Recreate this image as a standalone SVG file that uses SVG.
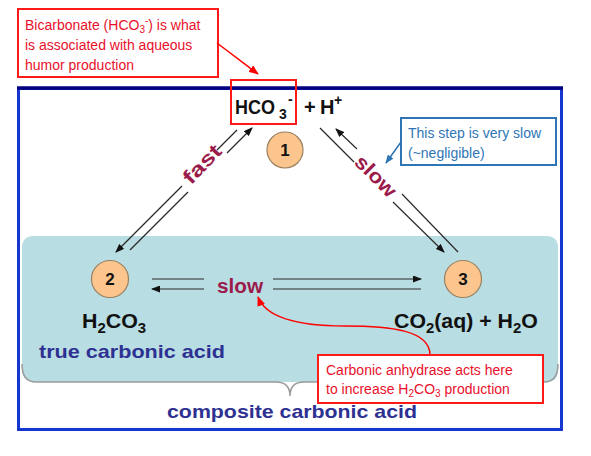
<svg xmlns="http://www.w3.org/2000/svg" width="591" height="456" viewBox="0 0 591 456">
<style>
.b{font-family:"Liberation Sans",Arial,sans-serif;font-weight:bold}
.chem{font-size:20px;fill:#111}
.lbl{font-size:19px;fill:#2e3192}
.rate{font-size:20px;fill:#9b1b4a}
.num{font-size:17px;fill:#111;text-anchor:middle}
.call{font-family:"Liberation Sans",Arial,sans-serif;font-size:14px}
.ln{stroke:#2a2a2a;stroke-width:1.2;fill:none}
.circ{fill:#fbc58d;stroke:#9a8060;stroke-width:1.2}
</style>
<defs>
<marker id="ah" markerWidth="9" markerHeight="7" refX="8" refY="3.5" orient="auto" markerUnits="userSpaceOnUse"><path d="M0,0 L9,3.5 L0,7 z" fill="#111"/></marker>
<marker id="ahr" markerWidth="10" markerHeight="8" refX="9" refY="4" orient="auto" markerUnits="userSpaceOnUse"><path d="M0,0 L10,4 L0,8 z" fill="#ff0000"/></marker>
<marker id="ahb" markerWidth="9" markerHeight="7" refX="8" refY="3.5" orient="auto" markerUnits="userSpaceOnUse"><path d="M0,0 L9,3.5 L0,7 z" fill="#2e75b6"/></marker>
</defs>
<rect width="591" height="456" fill="#fff"/>
<!-- frame -->
<rect x="18.5" y="88.5" width="543" height="341" fill="#fff" stroke="#1536d0" stroke-width="3"/>
<line x1="17" y1="88" x2="563" y2="88" stroke="#000080" stroke-width="3.5"/>
<!-- teal region with brace -->
<g id="region">
<path d="M22,248 Q22,236 34,236 L546,236 Q558,236 558,248 L558,370 Q558,382 546,382 L36,382 Q22,382 22,370 Z" fill="#b8dde2"/>
<path d="M22,364 Q22,382 36,382 L276,382 Q290,382 290,396 Q290,382 304,382 L544,382 Q558,382 558,364" fill="none" stroke="#9a9a9a" stroke-width="1.5"/>
<text class="b lbl" x="39" y="358" textLength="186" lengthAdjust="spacingAndGlyphs">true carbonic acid</text>
<text class="b lbl" x="167" y="418" textLength="250" lengthAdjust="spacingAndGlyphs">composite carbonic acid</text>
</g>
<!-- connectors -->
<g id="connectors">
<line class="ln" x1="237" y1="130" x2="217" y2="150"/>
<line class="ln" x1="182" y1="186" x2="116" y2="252" marker-end="url(#ah)"/>
<line class="ln" x1="130" y1="250" x2="188" y2="192"/>
<line class="ln" x1="227" y1="153" x2="252" y2="128" marker-end="url(#ah)"/>
<text class="b rate" transform="translate(202,164) rotate(-46)" text-anchor="middle" dy="0.35em" textLength="46" lengthAdjust="spacingAndGlyphs">fast</text>
<line class="ln" x1="320" y1="128" x2="354" y2="162"/>
<line class="ln" x1="393" y1="202" x2="444" y2="252" marker-end="url(#ah)"/>
<line class="ln" x1="458" y1="252" x2="402" y2="194"/>
<line class="ln" x1="357" y1="149" x2="336" y2="129" marker-end="url(#ah)"/>
<text class="b rate" transform="translate(376,176) rotate(45)" text-anchor="middle" dy="0.35em" textLength="50" lengthAdjust="spacingAndGlyphs">slow</text>
<line class="ln" x1="152" y1="279" x2="204" y2="279"/>
<line class="ln" x1="204" y1="289" x2="152" y2="289" marker-end="url(#ah)"/>
<line class="ln" x1="273" y1="279" x2="421" y2="279" marker-end="url(#ah)"/>
<line class="ln" x1="273" y1="289" x2="421" y2="289"/>
<text class="b rate" x="217" y="293" textLength="46" lengthAdjust="spacingAndGlyphs">slow</text>
</g>
<!-- nodes -->
<g id="node1">
<text class="b chem" y="114"><tspan x="235" textLength="40" lengthAdjust="spacingAndGlyphs">HCO</tspan><tspan x="279" y="119" font-size="14">3</tspan><tspan x="288" y="104" font-size="14">-</tspan><tspan x="304" y="114">+</tspan><tspan x="320" y="114">H</tspan><tspan x="334" y="105" font-size="14">+</tspan></text>
<circle class="circ" cx="285" cy="150" r="18"/>
<text class="b num" x="285" y="156">1</text>
</g>
<g id="node2">
<circle class="circ" cx="110" cy="279" r="18.5"/>
<text class="b num" x="110" y="285">2</text>
<text class="b chem" transform="translate(82,328) scale(1.07,1)">H<tspan font-size="14" dy="5">2</tspan><tspan dy="-5">CO</tspan><tspan font-size="14" dy="5">3</tspan></text>
</g>
<g id="node3">
<circle class="circ" cx="463" cy="279" r="18.5"/>
<text class="b num" x="463" y="285">3</text>
<text class="b chem" transform="translate(394,328) scale(1.065,1)">CO<tspan font-size="14" dy="5">2</tspan><tspan dy="-5">(aq) + H</tspan><tspan font-size="14" dy="5">2</tspan><tspan dy="-5">O</tspan></text>
</g>
<!-- callouts -->
<g id="callout-bicarbonate">
<rect x="231" y="80" width="65" height="44" fill="none" stroke="#ff1a1a" stroke-width="2"/>
<rect x="18" y="9" width="200" height="68" fill="#fff" stroke="#ff1a1a" stroke-width="2"/>
<text class="call" fill="#e8102a" x="25" y="30">Bicarbonate (HCO<tspan font-size="10" dy="3">3</tspan><tspan font-size="10" dy="-9">-</tspan><tspan dy="6">) is what</tspan></text>
<text class="call" fill="#e8102a" x="25" y="50">is associated with aqueous</text>
<text class="call" fill="#e8102a" x="25" y="70">humor production</text>
<line x1="217" y1="43" x2="258" y2="74" stroke="#ff0000" stroke-width="1.5" marker-end="url(#ahr)"/>
</g>
<g id="callout-slow">
<rect x="401" y="118" width="155" height="47" fill="#fff" stroke="#2e75b6" stroke-width="2"/>
<text class="call" fill="#2e75b6" x="408" y="138">This step is very slow</text>
<text class="call" fill="#2e75b6" x="408" y="158">(~negligible)</text>
<line x1="401" y1="142" x2="386" y2="163" stroke="#2e75b6" stroke-width="1.5" marker-end="url(#ahb)"/>
</g>
<g id="callout-anhydrase">
<path d="M430,355 C430,330 390,326 345,326 C300,326 266,318 258,297" fill="none" stroke="#ff0000" stroke-width="1.5" marker-end="url(#ahr)"/>
<rect x="318" y="355" width="225" height="48" fill="#fff" stroke="#ff1a1a" stroke-width="2"/>
<text class="call" fill="#e8102a" x="326" y="375">Carbonic anhydrase acts here</text>
<text class="call" fill="#e8102a" x="326" y="394">to increase H<tspan font-size="10" dy="3">2</tspan><tspan dy="-3">CO</tspan><tspan font-size="10" dy="3">3</tspan><tspan dy="-3"> production</tspan></text>
</g>
</svg>
